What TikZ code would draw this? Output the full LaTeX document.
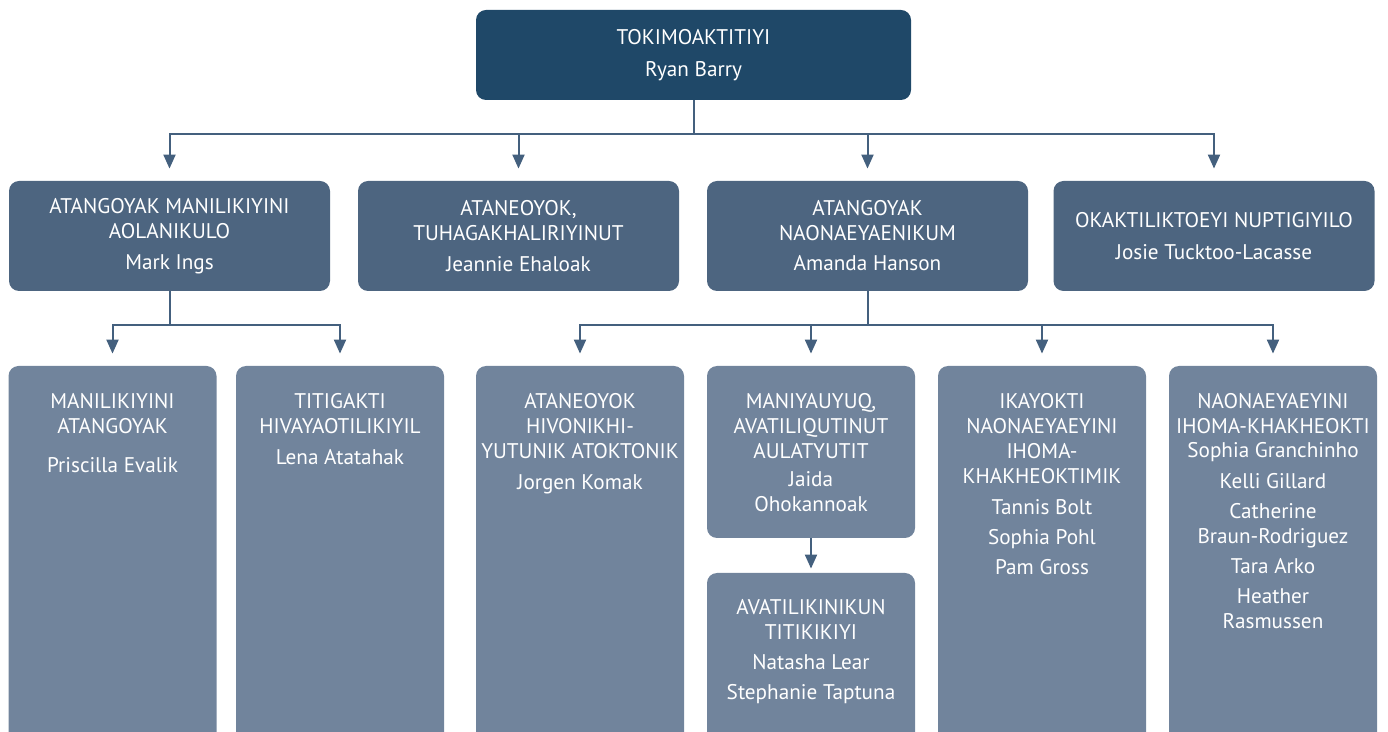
\documentclass[tikz,border=0pt]{standalone}
\usepackage{fontspec}
\setmainfont{PT Sans}
\usetikzlibrary{arrows.meta}

\definecolor{bleuchef}{HTML}{1F4868}
\definecolor{bleudir}{HTML}{4D6580}
\definecolor{bleuserv}{HTML}{71849C}
\definecolor{bleutrait}{HTML}{44607E}

\begin{document}
\begin{tikzpicture}[x=0.5pt,y=-0.5pt,
  boite/.style={rounded corners=5pt,inner sep=0pt,text=white,align=center,
    font=\fontsize{10.6}{12.5}\selectfont},
  chef/.style={boite,fill=bleuchef,minimum width=217.5pt,minimum height=45pt},
  direction/.style={boite,fill=bleudir,minimum width=160.5pt,minimum height=55pt},
  service/.style={boite,fill=bleuserv,minimum width=104pt},
  texte/.style={anchor=north,inner sep=0pt,text=white,align=center,
    font=\fontsize{10.6}{12.5}\selectfont},
  ligne/.style={draw=bleutrait,line width=1pt},
  fleche/.style={ligne,-{Triangle[length=7pt,width=6pt]},shorten >=6pt}]

\clip (0,0) rectangle (1388,732) ;

% tokimoaktitiyi

\node[chef] (dg) at (693.5,55) {TOKIMOAKTITIYI\\[3.5pt]Ryan Barry} ;

% directions

\node[direction] (d1) at (169.5,236) {ATANGOYAK MANILIKIYINI\\AOLANIKULO\\[3pt]Mark Ings} ;
\node[direction] (d2) at (518.5,236) {ATANEOYOK,\\TUHAGAKHALIRIYINUT\\[3pt]Jeannie Ehaloak} ;
\node[direction] (d3) at (867.5,236) {ATANGOYAK\\NAONAEYAENIKUM\\[2.5pt]Amanda Hanson} ;
\node[direction] (d4) at (1214,236) {OKAKTILIKTOEYI NUPTIGIYILO\\[3.5pt]Josie Tucktoo-Lacasse} ;

% services

\node[service,minimum height=197pt] (s1) at (112.5,563) {} ;
\node[service,minimum height=197pt] (s2) at (340,563) {} ;
\node[service,minimum height=197pt] (s3) at (580,563) {} ;
\node[service,minimum height=86pt] (s4) at (811,452) {} ;
\node[service,minimum height=93.5pt] (s5) at (811,666.5) {} ;
\node[service,minimum height=197pt] (s6) at (1042,563) {} ;
\node[service,minimum height=197pt] (s7) at (1273,563) {} ;

\node[texte] (t1) at (112.5,393) {MANILIKIYINI\\ATANGOYAK\\[7pt]Priscilla Evalik} ;
\node[texte] (t2) at (340,393) {TITIGAKTI\\HIVAYAOTILIKIYIL\\[3pt]Lena Atatahak} ;
\node[texte] (t3) at (580,393) {ATANEOYOK\\HIVONIKHI-\\YUTUNIK ATOKTONIK\\[3pt]Jorgen Komak} ;
\node[texte] (t4) at (811,393) {MANIYAUYUQ,\\AVATILIQUTINUT\\AULATYUTIT\\[1.5pt]Jaida\\Ohokannoak} ;
\node[texte] (t5) at (811,599) {AVATILIKINIKUN\\TITIKIKIYI\\[2.5pt]Natasha Lear\\[2.5pt]Stephanie Taptuna} ;
\node[texte] (t6) at (1042,393) {IKAYOKTI\\NAONAEYAEYINI\\IHOMA-\\KHAKHEOKTIMIK\\[3pt]Tannis Bolt\\[2.5pt]Sophia Pohl\\[2.5pt]Pam Gross} ;
\node[texte] (t7) at (1273,393) {NAONAEYAEYINI\\IHOMA-KHAKHEOKTI\\[-0.5pt]Sophia Granchinho\\[3pt]Kelli Gillard\\[2.5pt]Catherine\\Braun-Rodriguez\\[2.5pt]Tara Arko\\[2.5pt]Heather\\Rasmussen} ;

% traits

\coordinate (b0) at (693.5,134) ;
\coordinate (b1) at (169.5,325) ;
\coordinate (b3) at (867.5,325) ;

\draw[ligne] (dg.south) -- (b0) ;
\foreach \d in {d1,d2,d3,d4}
  \draw[fleche] (b0) -| (\d.north) ;

\draw[ligne] (d1.south) -- (b1) ;
\foreach \s in {s1,s2}
  \draw[fleche] (b1) -| (\s.north) ;

\draw[ligne] (d3.south) -- (b3) ;
\foreach \s in {s3,s4,s6,s7}
  \draw[fleche] (b3) -| (\s.north) ;

\draw[fleche,shorten >=2pt] (s4.south) -- (s5.north) ;

\end{tikzpicture}
\end{document}
